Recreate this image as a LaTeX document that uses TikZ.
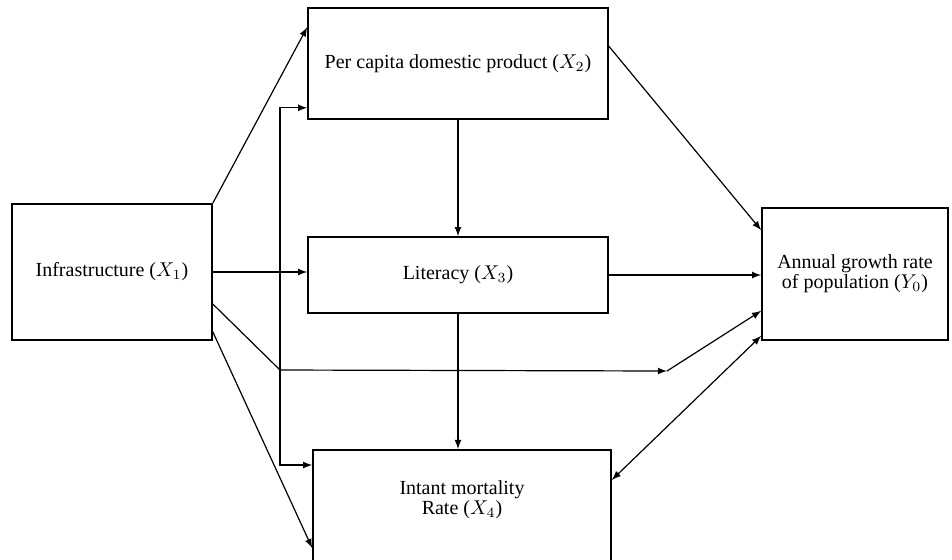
\documentclass[tikz,border=0pt]{standalone}
\usepackage{fontspec}
\setmainfont{Liberation Serif}
\usepackage{tikz}

\begin{document}
\begin{tikzpicture}[x=0.5pt, y=-0.5pt,
    box/.style={draw, thick, inner sep=0pt, align=center},
    arr/.style={semithick, -latex}]
    \useasboundingbox (0,0) rectangle (952,559);
    \clip (0,0) rectangle (952,559);
    \node[box, minimum width=100pt, minimum height=68pt] (x1) at (112,272) {Infrastructure ($X_1$)};
    \node[box, minimum width=150pt, minimum height=55.5pt] (x2) at (458,63.5) {Per capita domestic product ($X_2$)};
    \node[box, minimum width=150pt, minimum height=38pt] (x3) at (458,275) {Literacy ($X_3$)};
    \node[box, minimum width=93pt, minimum height=66pt] (y0) at (855,274) {Annual growth rate\\[-2pt] of population ($Y_0$)};
    \node[box, minimum width=149pt, minimum height=80pt, anchor=north] (x4) at (462,449) {};
    \node[align=center] (x4t) at (462,500) {Intant mortality\\[-2pt] Rate ($X_4$)};
    \coordinate (j) at (280,370);
    \coordinate (k) at (667,371);
    \draw[arr] (x1.north east) -- ([yshift=-10pt]x2.north west);
    \draw[arr] (x1.east) -- (x1.east -| x3.west);
    \draw[semithick] ([yshift=-16pt]x1.east) -- (j);
    \draw[arr] (j) |- ([yshift=6pt]x2.south west);
    \draw[arr] (j) |- ([yshift=-8pt]x4.north west);
    \draw[arr] (j) -- (k);
    \draw[arr] (k) -- ([yshift=15pt]y0.south west);
    \draw[arr] ([yshift=4.5pt]x1.south east) -- ([yshift=-49.5pt]x4.north west);
    \draw[arr] (x2.south) -- (x2.south |- x3.north);
    \draw[arr] (x3.south) -- (x3.south |- x4.north);
    \draw[arr] (x3.east) -- (x3.east -| y0.west);
    \draw[arr] ([yshift=-19.5pt]x2.north east) -- ([yshift=-11.5pt]y0.north west);
    \draw[semithick, latex-latex] ([yshift=-15.5pt]x4.north east) -- ([yshift=2.5pt]y0.south west);
  \end{tikzpicture}
\end{document}
